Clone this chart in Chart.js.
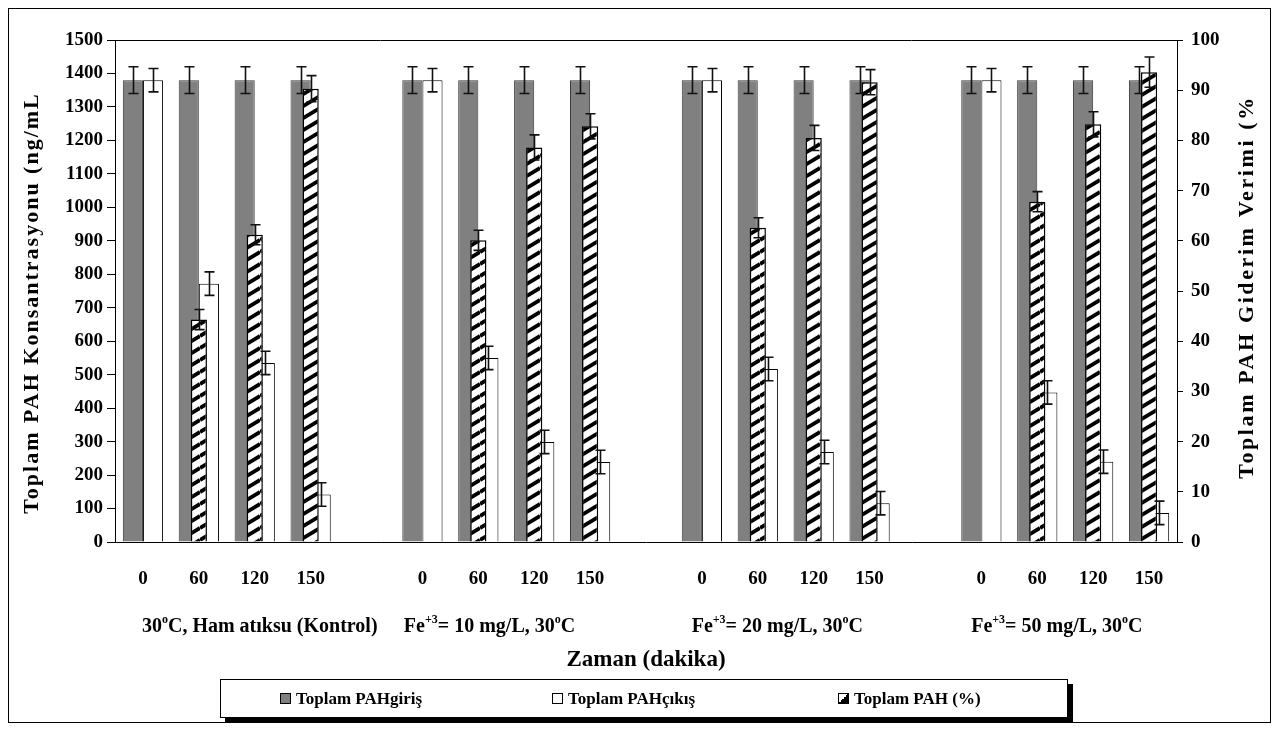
<!DOCTYPE html>
<html><head><meta charset="utf-8">
<script src="https://cdn.jsdelivr.net/npm/chart.js@4.4.1/dist/chart.umd.min.js"></script>
<style>
html,body{margin:0;padding:0;background:#fff;overflow:hidden}
#wrap{position:relative;width:1279px;height:731px}
#legend{position:absolute;left:220px;top:679px;width:846px;height:37px;border:1px solid #000;box-shadow:5px 5px 0 #000;background:#fff;font:bold 17px "Liberation Serif",serif;color:#000}
.item{position:absolute;top:0;height:37px;display:flex;align-items:center;white-space:nowrap}
.mk{width:11px;height:11px;border:1px solid #000;margin-right:5px;box-sizing:border-box}
</style></head>
<body>
<div id="wrap"><canvas id="c" width="1279" height="731"></canvas>
<div id="legend">
 <div class="item" style="left:59px"><span class="mk" style="background:#808080"></span>Toplam PAHgiriş</div>
 <div class="item" style="left:331px"><span class="mk" style="background:#fff"></span>Toplam PAHçıkış</div>
 <div class="item" style="left:617px"><span class="mk" style="background:linear-gradient(to bottom right,#fff 50%,#000 50%)"></span>Toplam PAH (%)</div>
</div>
</div>
<script>
// ---- data ----
const times = ['0','60','120','150'];
const groupLabels = [
  [['30',0],['o',1],['C, Ham atıksu (Kontrol)',0]],
  [['Fe',0],['+3',1],['= 10 mg/L, 30',0],['o',1],['C',0]],
  [['Fe',0],['+3',1],['= 20 mg/L, 30',0],['o',1],['C',0]],
  [['Fe',0],['+3',1],['= 50 mg/L, 30',0],['o',1],['C',0]]
];
const girisValues = [1380,1380,1380,1380, 1380,1380,1380,1380, 1380,1380,1380,1380, 1380,1380,1380,1380];
const girisErr    = [40,40,40,40, 40,40,40,40, 40,40,40,40, 40,40,40,40];
const cikisValues = [1380,772,535,142, 1380,550,299,239, 1380,517,269,116, 1380,447,240,87];
const cikisErr    = [35,35,35,35, 35,35,35,35, 35,35,35,35, 35,35,35,35];
const giderimValues = [0,44.3,61.2,90.3, 0,60.1,78.6,82.8, 0,62.6,80.5,91.6, 0,67.8,83.2,93.6];
const giderimErr    = [0,2,2,2.6, 0,2,2.5,2.5, 0,2,2.5,2.5, 0,2,2.5,3];
const leftTicksMax = 1500, leftStep = 100, rightMax = 100, rightStep = 10;
const leftTitle = 'Toplam PAH Konsantrasyonu (ng/mL';
const rightTitle = 'Toplam PAH Giderim Verimi (%';
const xTitle = 'Zaman (dakika)';

// build category layout with an empty slot between groups
const labels = [];
function spread(arr){
  const out=[];
  for(let g=0; g<4; g++){
    for(let t=0;t<4;t++) out.push(arr[g*4+t]);
    if(g<3) out.push(null);
  }
  return out;
}
for(let g=0; g<4; g++){ times.forEach(t=>labels.push(t)); if(g<3) labels.push(''); }

// hatch pattern
function makeHatch(){
  const W=20,H=12;
  const c=document.createElement('canvas'); c.width=W; c.height=H;
  const x=c.getContext('2d');
  x.fillStyle='#fff'; x.fillRect(0,0,W,H);
  x.strokeStyle='#000'; x.lineWidth=3.8; x.lineCap='butt';
  [[0,H,W,0],[0,0,W,-H],[0,2*H,W,H]].forEach(l=>{x.beginPath();x.moveTo(l[0],l[1]);x.lineTo(l[2],l[3]);x.stroke();});
  return document.getElementById('c').getContext('2d').createPattern(c,'repeat');
}
const hatch = makeHatch();

const errMap = {0: spread(girisErr), 1: spread(cikisErr), 2: spread(giderimErr)};

const FONT = '"Liberation Serif", "Times New Roman", serif';

function drawRich(ctx, segs, cx, baseY, size){
  let total=0;
  segs.forEach(s=>{ ctx.font = 'bold '+(s[1]?Math.round(size*0.62):size)+'px '+FONT; s.w=ctx.measureText(s[0]).width; total+=s.w; });
  let x = cx-total/2;
  ctx.textAlign='left'; ctx.textBaseline='alphabetic';
  segs.forEach(s=>{
    ctx.font = 'bold '+(s[1]?Math.round(size*0.62):size)+'px '+FONT;
    ctx.fillText(s[0], x, s[1]? baseY-size*0.45 : baseY);
    x+=s.w;
  });
}

const deco = {
  id:'deco',
  beforeDraw(chart){
    const ctx=chart.ctx; ctx.save(); ctx.fillStyle='#fff'; ctx.fillRect(0,0,chart.width,chart.height); ctx.restore();
  },
  afterDatasetsDraw(chart){
    const ctx=chart.ctx;
    ctx.save();
    ctx.strokeStyle='#111'; ctx.lineWidth=1.6;
    chart.data.datasets.forEach((ds,di)=>{
      const meta=chart.getDatasetMeta(di);
      const ys=chart.scales[ds.yAxisID];
      const errs=errMap[di];
      meta.data.forEach((el,i)=>{
        const v=ds.data[i], e=errs[i];
        if(v===null||v===undefined||!e) return;
        const x=Math.round(el.x)+0.5;
        const y1=ys.getPixelForValue(v+e), y2=ys.getPixelForValue(v-e);
        ctx.beginPath();
        ctx.moveTo(x,y1); ctx.lineTo(x,y2);
        ctx.moveTo(x-5,y1); ctx.lineTo(x+5,y1);
        ctx.moveTo(x-5,y2); ctx.lineTo(x+5,y2);
        ctx.stroke();
      });
    });
    ctx.restore();
  },
  afterDraw(chart){
    const ctx=chart.ctx, a=chart.chartArea;
    ctx.save();
    ctx.strokeStyle='#000'; ctx.lineWidth=1;
    ctx.strokeRect(8.5,8.5,1262,714);
    ctx.beginPath(); ctx.moveTo(a.left,a.top+0.5); ctx.lineTo(a.right,a.top+0.5); ctx.stroke();
    ctx.fillStyle='#000';
    // axis titles
    ctx.font='bold 22px '+FONT;
    ctx.textAlign='center'; ctx.textBaseline='middle';
    try{ ctx.letterSpacing='2px'; }catch(e){}
    ctx.save(); ctx.translate(32,303); ctx.rotate(-Math.PI/2); ctx.fillText(leftTitle,0,0); ctx.restore();
    try{ ctx.letterSpacing='2.6px'; }catch(e){}
    ctx.save(); ctx.translate(1247,287); ctx.rotate(-Math.PI/2); ctx.fillText(rightTitle,0,0); ctx.restore();
    try{ ctx.letterSpacing='0px'; }catch(e){}
    ctx.font='bold 23px '+FONT;
    ctx.fillText(xTitle,(a.left+a.right)/2,660);
    // group labels
    const xs=chart.scales.x;
    const anchors=[2.09, 6.2, 11.35, 16.35];
    groupLabels.forEach((segs,g)=>{
      drawRich(ctx, segs.map(s=>[s[0],s[1]]), xs.getPixelForValue(anchors[g]), 632, 20);
    });
    ctx.restore();
  }
};

new Chart(document.getElementById('c'), {
  type:'bar',
  data:{
    labels: labels,
    datasets:[
      {label:'Toplam PAHgiriş', data: spread(girisValues), yAxisID:'y', order:2,
       backgroundColor:'#808080', borderColor:'#3a3a3a', borderWidth:1, categoryPercentage:0.72, barPercentage:1.0},
      {label:'Toplam PAHçıkış', data: spread(cikisValues), yAxisID:'y', order:3,
       backgroundColor:'#ffffff', borderColor:'#000', borderWidth:1, categoryPercentage:0.72, barPercentage:1.0},
      {label:'Toplam PAH (%)', data: spread(giderimValues), yAxisID:'y2', order:1, grouped:false,
       backgroundColor:hatch, borderColor:'#000', borderWidth:1.5, categoryPercentage:1.0, barPercentage:0.29}
    ]
  },
  options:{
    responsive:false, animation:false, maintainAspectRatio:false,
    layout:{padding:{top:40,left:0,right:0,bottom:0}},
    plugins:{legend:{display:false}, tooltip:{enabled:false}},
    scales:{
      x:{type:'category', offset:true, grid:{display:false, drawTicks:false},
         border:{display:true,color:'#000',width:1},
         ticks:{autoSkip:false,maxRotation:0,minRotation:0,padding:26,color:'#000',font:{family:FONT,size:19,weight:'bold'}},
         afterFit(s){ s.height=189; }},
      y:{position:'left', min:0, max:leftTicksMax, grid:{drawOnChartArea:false, tickLength:8, color:'#000'},
         border:{color:'#000',width:1},
         ticks:{stepSize:leftStep,padding:4,color:'#000',font:{family:FONT,size:19,weight:'bold'},callback:v=>String(v)},
         afterFit(s){ s.width=115; }},
      y2:{position:'right', min:0, max:rightMax, grid:{drawOnChartArea:false, tickLength:6, color:'#000'},
         border:{color:'#000',width:1},
         ticks:{stepSize:rightStep,padding:8,color:'#000',font:{family:FONT,size:19,weight:'bold'},callback:v=>String(v)},
         afterFit(s){ s.width=102; }}
    }
  },
  plugins:[deco]
});
</script>
</body></html>
